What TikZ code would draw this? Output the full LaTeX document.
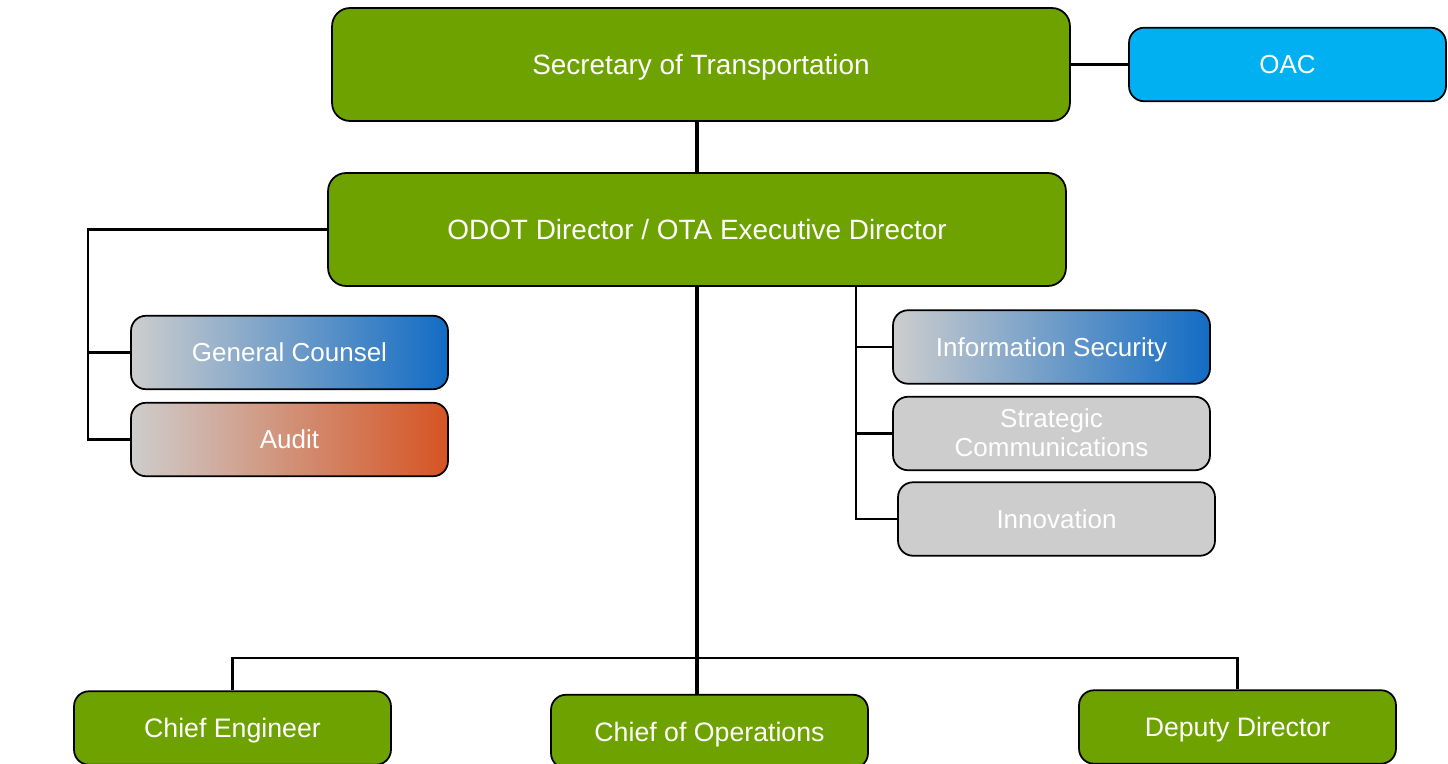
\documentclass[tikz,border=0pt]{standalone}
\usepackage{fontspec}
\setmainfont{Liberation Sans}
\usepackage{tikz}
\usetikzlibrary{positioning, calc}

\definecolor{odotgreen}{RGB}{110,162,0}
\definecolor{oacblue}{RGB}{0,176,240}
\definecolor{boxgray}{RGB}{205,205,205}
\definecolor{secblue}{RGB}{18,108,196}
\definecolor{secmid}{RGB}{160,172,202}
\definecolor{auditred}{RGB}{214,84,34}
\definecolor{auditmid}{RGB}{208,162,152}

\begin{document}
\begin{tikzpicture}[
  x=0.02cm, y=-0.02cm,
  unit/.style={rectangle, draw, line width=1pt, text=white, inner sep=0pt, text depth=0pt},
  bigbox/.style={unit, rounded corners=0.36cm, minimum width=14.76cm, minimum height=2.26cm,
    fill=odotgreen, font=\fontsize{15.9}{18}\selectfont, text height=11.4pt},
  smallbox/.style={unit, rounded corners=0.3cm, minimum width=6.34cm, minimum height=1.47cm,
    fill=boxgray, font=\fontsize{14.8}{16.4}\selectfont, text height=10.6pt},
  divbox/.style={smallbox, fill=odotgreen, font=\fontsize{15.2}{17}\selectfont, text height=10.9pt},
  blueshade/.style={left color=boxgray, middle color=secmid, right color=secblue},
  redshade/.style={left color=boxgray, middle color=auditmid, right color=auditred},
  link/.style={line width=1.3pt},
  trunk/.style={line width=1.8pt},
]
  \useasboundingbox (0,0) rectangle (1448,764);

  % top level
  \node[bigbox] (sec) at (701,64.5) {Secretary of Transportation};
  \node[smallbox,fill=oacblue] (oac) at (1287.5,64.5) {OAC};
  \node[bigbox] (odot) at (697,229.5) {ODOT Director / OTA Executive Director};

  % staff offices
  \node[smallbox,blueshade] (gc) at (289.5,352.5) {General Counsel};
  \node[smallbox,redshade] (audit) at (289.5,439.5) {Audit};
  \node[smallbox,blueshade] (infosec) at (1051.5,347) {Information Security};
  \node[smallbox] (comms) at (1051.5,433.5)
    {\begin{tabular}{@{}c@{}}Strategic\\Communications\end{tabular}};
  \node[smallbox] (innov) at (1056.5,519) {Innovation};

  % divisions
  \node[divbox] (eng) at (232.5,728) {Chief Engineer};
  \node[divbox] (ops) at (709.5,731.5) {Chief of Operations};
  \node[divbox] (dep) at (1237.5,727) {Deputy Director};

  \coordinate (lbus) at (88,231);
  \coordinate (rbus) at (856,286);
  \coordinate (hbar) at (697,658);

  \draw[trunk] (odot.north) -- (odot.north |- sec.south);
  \draw[link] (sec.east) -- (oac.west);

  \draw[link] (odot.west) -- (odot.west -| lbus) -- (lbus |- audit.west) -- (audit.west);
  \draw[link] (lbus |- gc.west) -- (gc.west);

  \draw[link] (odot.south -| rbus) -- (rbus |- innov.west) -- (innov.west);
  \draw[link] (rbus |- infosec.west) -- (infosec.west);
  \draw[link] (rbus |- comms.west) -- (comms.west);

  \draw[trunk] (odot.south) -- (odot.south |- ops.north);
  \draw[link] (eng.north) -- (eng.north |- hbar) -- (dep.north |- hbar) -- (dep.north);
\end{tikzpicture}
\end{document}
